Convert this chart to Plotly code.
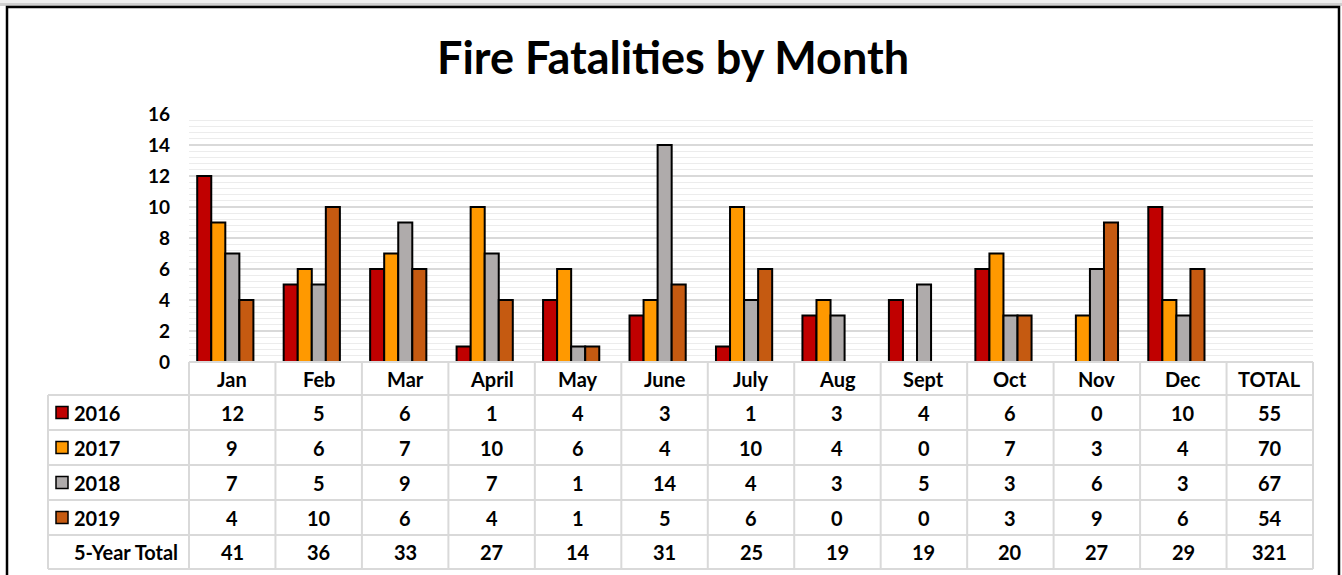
import plotly.graph_objects as go

months = ["Jan", "Feb", "Mar", "April", "May", "June", "July", "Aug", "Sept", "Oct", "Nov", "Dec"]
columns = months + ["TOTAL"]
years = ["2016", "2017", "2018", "2019"]
v2016 = [12, 5, 6, 1, 4, 3, 1, 3, 4, 6, 0, 10]
v2017 = [9, 6, 7, 10, 6, 4, 10, 4, 0, 7, 3, 4]
v2018 = [7, 5, 9, 7, 1, 14, 4, 3, 5, 3, 6, 3]
v2019 = [4, 10, 6, 4, 1, 5, 6, 0, 0, 3, 9, 6]
year_totals = [55, 70, 67, 54]
five_year_total = [41, 36, 33, 27, 14, 31, 25, 19, 19, 20, 27, 29]
grand_total = 321
colors = ["#C00000", "#FF9900", "#AFABAB", "#C55A11"]
series = [v2016, v2017, v2018, v2019]

W, H = 1342, 575
L, R, T, B = 189, 1313, 114, 362
FONT = "Lato"


def px(x):
    return (x - L) / (R - L)


def py(y):
    return (B - y) / (B - T)


fig = go.Figure()
for name, vals, c in zip(years, series, colors):
    fig.add_trace(go.Bar(
        x=months, y=vals, name=name,
        marker=dict(color=c, line=dict(color="black", width=2)),
    ))

shapes = []
annotations = []
grid = "#D9D9D9"
row_edges = [395, 430, 465, 500, 535, 569]
col_w = (R - L) / 13
col_edges = [L + k * col_w for k in range(14)]
col_centers = [L + (k + 0.5) * col_w for k in range(13)]

# horizontal table lines
shapes.append(dict(type="line", xref="paper", yref="paper", x0=px(L), x1=px(R), y0=py(362), y1=py(362),
                   line=dict(color=grid, width=2)))
for y in row_edges:
    shapes.append(dict(type="line", xref="paper", yref="paper", x0=px(48), x1=px(R), y0=py(y), y1=py(y),
                       line=dict(color=grid, width=2)))
# vertical lines
shapes.append(dict(type="line", xref="paper", yref="paper", x0=px(48), x1=px(48), y0=py(395), y1=py(569),
                   line=dict(color=grid, width=2)))
for x in col_edges:
    shapes.append(dict(type="line", xref="paper", yref="paper", x0=px(x), x1=px(x), y0=py(362), y1=py(569),
                       line=dict(color=grid, width=2)))

tf = dict(family=FONT, size=20, color="black", weight="bold")
# header
for i, c in enumerate(columns):
    annotations.append(dict(x=px(col_centers[i]), xref="paper", y=py(379), yref="paper", text=c, showarrow=False,
                            font=tf, xanchor="center", yanchor="middle"))
# rows
row_vals = series + [five_year_total]
row_totals = year_totals + [grand_total]
row_labels = years + ["5-Year Total"]
for r in range(5):
    yc = (row_edges[r] + row_edges[r + 1]) / 2
    for i, v in enumerate(row_vals[r]):
        annotations.append(dict(x=px(col_centers[i]), xref="paper", y=py(yc), yref="paper", text=str(v),
                                showarrow=False, font=tf, xanchor="center", yanchor="middle"))
    annotations.append(dict(x=px(col_centers[12]), xref="paper", y=py(yc), yref="paper", text=str(row_totals[r]),
                            showarrow=False, font=tf, xanchor="center", yanchor="middle"))
    annotations.append(dict(x=px(72), xref="paper", y=py(yc), yref="paper", text=row_labels[r], showarrow=False,
                            font=tf, xanchor="left", yanchor="middle"))
    if r < 4:
        shapes.append(dict(type="rect", xref="paper", yref="paper", x0=px(56), x1=px(68),
                           y0=py(yc - 6), y1=py(yc + 6), fillcolor=colors[r],
                           line=dict(color="black", width=1.5)))

# title
annotations.append(dict(x=px(673), xref="paper", y=py(57), yref="paper", text="Fire Fatalities by Month",
                        showarrow=False, font=dict(family=FONT, size=45, color="black", weight="bold"),
                        xanchor="center", yanchor="middle"))

# outer frame and shadow
shapes.append(dict(type="rect", xref="paper", yref="paper", x0=px(0), x1=px(1342), y0=py(0), y1=py(3),
                   line=dict(width=0), fillcolor="#EEEEEE", layer="below"))
shapes.append(dict(type="rect", xref="paper", yref="paper", x0=px(0), x1=px(1342), y0=py(3), y1=py(6),
                   line=dict(width=0), fillcolor="#CFCFCF", layer="below"))
shapes.append(dict(type="rect", xref="paper", yref="paper", x0=px(7), x1=px(1339), y0=py(7), y1=py(600),
                   line=dict(color="black", width=2.5)))

fig.update_layout(
    width=W, height=H,
    margin=dict(l=L, r=W - R, t=T, b=H - B, pad=0),
    paper_bgcolor="white", plot_bgcolor="white",
    barmode="group", bargap=0.35, bargroupgap=0,
    showlegend=False,
    shapes=shapes, annotations=annotations,
    xaxis=dict(type="category", categoryorder="array", categoryarray=columns, range=[-0.42, 12.58],
               showticklabels=False, showgrid=False, zeroline=False, showline=False, ticks=""),
    yaxis=dict(range=[0, 16], dtick=2, tick0=0, showgrid=True, gridcolor="#D9D9D9", gridwidth=1.5,
               zeroline=False, showline=False, ticks="", ticklabelstandoff=18,
               tickfont=dict(family=FONT, size=19, color="black", weight="bold"),
               minor=dict(dtick=0.4, tick0=0, showgrid=True, gridcolor="#ECECEC", gridwidth=1)),
)

fig.write_html("out.html", config={"displayModeBar": False},
               post_script="document.body.style.margin='0';document.body.style.overflow='hidden';")
